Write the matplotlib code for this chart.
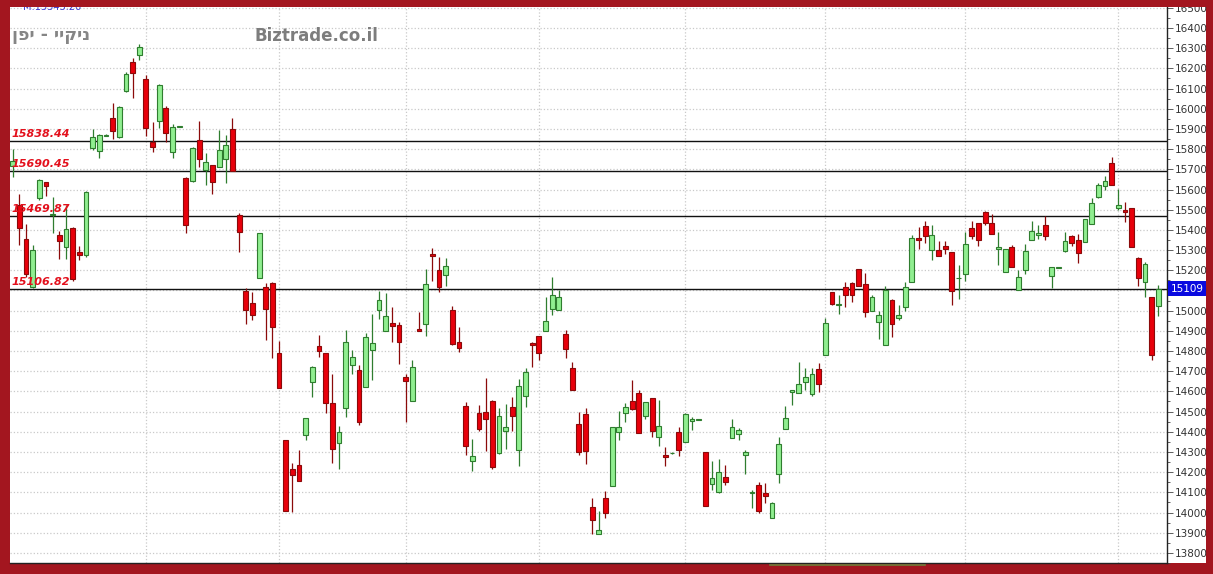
import matplotlib
matplotlib.use("Agg")
import matplotlib.pyplot as plt
from matplotlib.patches import Rectangle
from matplotlib.lines import Line2D
import numpy as np

##### Data #############################
opens = [15718, 15521, 15357, 15115, 15557, 15636, 15472, 15377, 15315, 15410,
         15292, 15275, 15805, 15790, 15866, 15956, 15861, 16086, 16230, 16268,
         16145, 15835, 15940, 16005, 15787, 15910, 15658, 15644, 15844, 15699,
         15723, 15710, 15751, 15899, 15472, 15095, 15038, 15164, 15115, 15136,
         14792, 14357, 14218, 14234, 14386, 14649, 14823, 14792, 14541, 14346,
         14516, 14731, 14705, 14623, 14803, 15002, 14898, 14939, 14931, 14669,
         14554, 14907, 14934, 15282, 15200, 15177, 15005, 14847, 14529, 14254,
         14493, 14496, 14551, 14296, 14406, 14521, 14308, 14575, 14839, 14874,
         14898, 15010, 15005, 14882, 14718, 14439, 14488, 14029, 13893, 14070,
         14131, 14401, 14493, 14554, 14590, 14477, 14565, 14373, 14283, 14294,
         14398, 14349, 14455, 14459, 14300, 14139, 14103, 14177, 14368, 14390,
         14287, 14095, 14136, 14095, 13972, 14190, 14414, 14598, 14593, 14649,
         14587, 14710, 14780, 15090, 15026, 15115, 15139, 15206, 15131, 14997,
         14942, 14829, 15052, 14964, 15016, 15141, 15361, 15418, 15300, 15300,
         15320, 15288, 15161, 15180, 15407, 15435, 15489, 15436, 15305, 15193,
         15316, 15103, 15202, 15349, 15374, 15423, 15174, 15213, 15297, 15369,
         15349, 15341, 15428, 15562, 15617, 15731, 15510, 15497, 15508, 15262,
         15141, 15067, 15021]
highs = [15800, 15579, 15428, 15325, 15653, 15636, 15562, 15393, 15521, 15415,
         15320, 15594, 15899, 15874, 15874, 16030, 16013, 16181, 16253, 16322,
         16169, 15936, 16125, 16013, 15923, 15916, 15664, 15813, 15940, 15781,
         15723, 15894, 15869, 15956, 15485, 15111, 15090, 15387, 15136, 15144,
         14849, 14357, 14245, 14308, 14468, 14726, 14879, 14792, 14685, 14431,
         14902, 14805, 14731, 14890, 14985, 15095, 15087, 15016, 14942, 14685,
         14754, 14993, 15205, 15311, 15264, 15259, 15021, 14918, 14546, 14365,
         14534, 14665, 14557, 14516, 14537, 14573, 14660, 14715, 14844, 14874,
         15070, 15166, 15100, 14902, 14746, 14500, 14516, 14070, 14009, 14106,
         14423, 14505, 14542, 14656, 14606, 14549, 14565, 14559, 14327, 14298,
         14423, 14492, 14472, 14462, 14300, 14254, 14267, 14234, 14464, 14419,
         14308, 14111, 14152, 14147, 14054, 14373, 14529, 14608, 14746, 14718,
         14718, 14742, 14964, 15090, 15075, 15141, 15141, 15206, 15185, 15075,
         14997, 15123, 15059, 15026, 15141, 15374, 15415, 15444, 15423, 15346,
         15344, 15292, 15226, 15390, 15443, 15435, 15492, 15477, 15390, 15303,
         15325, 15202, 15328, 15443, 15423, 15469, 15215, 15218, 15390, 15374,
         15382, 15456, 15558, 15633, 15666, 15759, 15603, 15538, 15508, 15267,
         15243, 15070, 15125]
lows = [15661, 15325, 15169, 15111, 15546, 15567, 15387, 15256, 15254, 15149,
        15251, 15267, 15797, 15756, 15864, 15849, 15853, 16082, 16054, 16243,
        15866, 15787, 15907, 15836, 15756, 15908, 15387, 15636, 15710, 15623,
        15579, 15710, 15631, 15690, 15289, 14936, 14956, 15164, 14857, 14767,
        14616, 14009, 14004, 14155, 14357, 14574, 14772, 14493, 14246, 14218,
        14472, 14685, 14434, 14623, 14657, 14961, 14898, 14846, 14738, 14447,
        14554, 14898, 14874, 15147, 15090, 15123, 14829, 14793, 14283, 14204,
        14406, 14303, 14214, 14291, 14316, 14406, 14231, 14521, 14721, 14755,
        14898, 14977, 15005, 14767, 14608, 14283, 14239, 13893, 13893, 13972,
        14131, 14357, 14447, 14508, 14393, 14464, 14373, 14332, 14229, 14292,
        14278, 14349, 14410, 14458, 14032, 14111, 14098, 14136, 14368, 14357,
        14193, 14021, 13999, 14045, 13972, 14147, 14414, 14532, 14593, 14608,
        14579, 14598, 14780, 15026, 14985, 15016, 15043, 15123, 14967, 14997,
        14861, 14829, 14869, 14952, 15000, 15141, 15303, 15336, 15251, 15269,
        15280, 15029, 15059, 15148, 15357, 15321, 15423, 15382, 15226, 15193,
        15218, 15103, 15180, 15349, 15357, 15352, 15111, 15212, 15289, 15321,
        15234, 15341, 15428, 15558, 15600, 15620, 15497, 15439, 15316, 15120,
        15066, 14754, 14975]
closes = [15743, 15407, 15180, 15302, 15649, 15615, 15480, 15344, 15403, 15156,
          15275, 15590, 15858, 15869, 15870, 15890, 16010, 16174, 16177, 16307,
          15907, 15813, 16120, 15882, 15912, 15914, 15423, 15808, 15751, 15735,
          15639, 15795, 15820, 15690, 15390, 15005, 14980, 15387, 15010, 14918,
          14616, 14009, 14185, 14155, 14468, 14721, 14800, 14541, 14313, 14398,
          14846, 14770, 14450, 14869, 14841, 15051, 14975, 14923, 14844, 14652,
          14721, 14898, 15134, 15272, 15118, 15223, 14836, 14815, 14332, 14280,
          14414, 14464, 14226, 14477, 14426, 14480, 14628, 14698, 14828, 14792,
          14947, 15075, 15066, 14808, 14608, 14300, 14303, 13963, 13914, 13999,
          14423, 14423, 14521, 14513, 14393, 14549, 14406, 14431, 14275, 14296,
          14311, 14488, 14464, 14461, 14032, 14169, 14201, 14149, 14426, 14410,
          14300, 14103, 14008, 14082, 14049, 14341, 14467, 14608, 14639, 14672,
          14685, 14636, 14939, 15033, 15033, 15079, 15075, 15123, 14993, 15070,
          14977, 15100, 14934, 14977, 15118, 15361, 15351, 15369, 15377, 15269,
          15305, 15095, 15164, 15328, 15371, 15349, 15436, 15382, 15315, 15303,
          15218, 15166, 15297, 15395, 15385, 15369, 15215, 15217, 15344, 15333,
          15287, 15456, 15533, 15620, 15644, 15620, 15525, 15489, 15316, 15161,
          15231, 14780, 15109]

levels = [15838.44, 15690.45, 15469.87, 15106.82]
month_starts = [20, 40, 59, 79, 101, 122, 143, 166]
last_price = 15109
mean_label = "M:15545.26"
title = "ניקיי - יפן"
site = "Biztrade.co.il"
######################

W, H = 1213, 574
BORDER = "#a3161f"
UP_FACE, UP_EDGE = "#90ee90", "#2f7d2f"
DOWN_FACE, DOWN_EDGE = "#e8000b", "#8b0a0a"

fig = plt.figure(figsize=(W / 100, H / 100), dpi=100)
fig.patch.set_facecolor(BORDER)

# plot area in pixels: x 10..1167, y 7..563
ax = fig.add_axes([10 / W, 1 - 563 / H, (1167 - 10) / W, (563 - 7) / H])
ax.set_facecolor("white")

# white strip behind the price labels
fig.add_artist(Rectangle((1167 / W, 1 - 563 / H), (1206 - 1167) / W, (563 - 7) / H,
                         transform=fig.transFigure, facecolor="white",
                         edgecolor="none", zorder=-1))

o = np.array(opens, dtype=float)
h = np.array(highs, dtype=float)
l = np.array(lows, dtype=float)
c = np.array(closes, dtype=float)
x = np.arange(len(o))
up = c >= o

# wicks
ax.vlines(x[up], l[up], h[up], color=UP_EDGE, lw=0.9, zorder=3)
ax.vlines(x[~up], l[~up], h[~up], color=DOWN_EDGE, lw=0.9, zorder=3)
# bodies
body_lo = np.minimum(o, c)
body_h = np.abs(c - o)
ax.bar(x[up], body_h[up], bottom=body_lo[up], width=0.72,
       facecolor=UP_FACE, edgecolor=UP_EDGE, lw=0.8, zorder=4)
ax.bar(x[~up], body_h[~up], bottom=body_lo[~up], width=0.72,
       facecolor=DOWN_FACE, edgecolor=DOWN_EDGE, lw=0.8, zorder=4)

ax.set_xlim(-0.4, 173.3)
ax.set_ylim(13769, 16504)

# support / resistance lines with their labels
for lev in levels:
    ax.axhline(lev, color="#111111", lw=1.0, zorder=2)
    ax.annotate("{0:.2f}".format(lev), xy=(0.0015, lev),
                xycoords=("axes fraction", "data"), xytext=(0, 1.5),
                textcoords="offset points", ha="left", va="bottom",
                fontsize=8, fontweight="bold", fontstyle="italic",
                color="#e3101c", zorder=6)

# grid
ax.set_yticks(np.arange(13800, 16501, 100))
ax.set_yticks(np.arange(13750, 16501, 50), minor=True)
ax.set_xticks(month_starts)
ax.grid(True, which="major", color="#c9c9c9", ls=":", lw=0.9, zorder=0)
ax.yaxis.tick_right()
ax.tick_params(axis="y", which="major", length=4, width=0.6, colors="#444444",
               labelsize=7.5, labelcolor="#333333", pad=1.5)
ax.tick_params(axis="y", which="minor", length=2, width=0.6, colors="#444444")
ax.tick_params(axis="x", length=0, labelbottom=False)

for side in ["left", "top"]:
    ax.spines[side].set_visible(False)
for side in ["right", "bottom"]:
    ax.spines[side].set_color("#222222")
    ax.spines[side].set_linewidth(1.0)

# last price box (covers the 15100 label, as in the source chart)
ax.annotate(str(last_price), xy=(1.0, last_price),
            xycoords=("axes fraction", "data"), xytext=(2.5, 0),
            textcoords="offset points", ha="left", va="center",
            fontsize=7.5, color="white", zorder=10, annotation_clip=False,
            bbox=dict(boxstyle="square,pad=0.25", facecolor="#0a0ae0",
                      edgecolor="none"))

# header texts (hebrew reversed for left-to-right drawing)
fig.text(12 / W, 1 - 35 / H, title[::-1], ha="left", va="center",
         fontsize=12.5, fontweight="bold", color="#858585",
         family="DejaVu Sans")
fig.text(255 / W, 1 - 36 / H, site, ha="left", va="center",
         fontsize=12, fontweight="bold", color="#7d7d7d")
fig.text(23 / W, 1 - 7 / H, mean_label, ha="left", va="center",
         fontsize=7, color="#3a3ad0", zorder=2)

# top border strip over clipped texts
fig.add_artist(Rectangle((0, 1 - 7 / H), 1, 7 / H, transform=fig.transFigure,
                         facecolor=BORDER, edgecolor="none", zorder=20))
# scroll marker at the bottom
fig.add_artist(Line2D([770 / W, 925 / W], [1 - 564.5 / H] * 2,
                      transform=fig.transFigure, color="#6d7f3a", lw=1.2,
                      zorder=20))

fig.savefig("out.png", dpi=100, facecolor=fig.get_facecolor())
